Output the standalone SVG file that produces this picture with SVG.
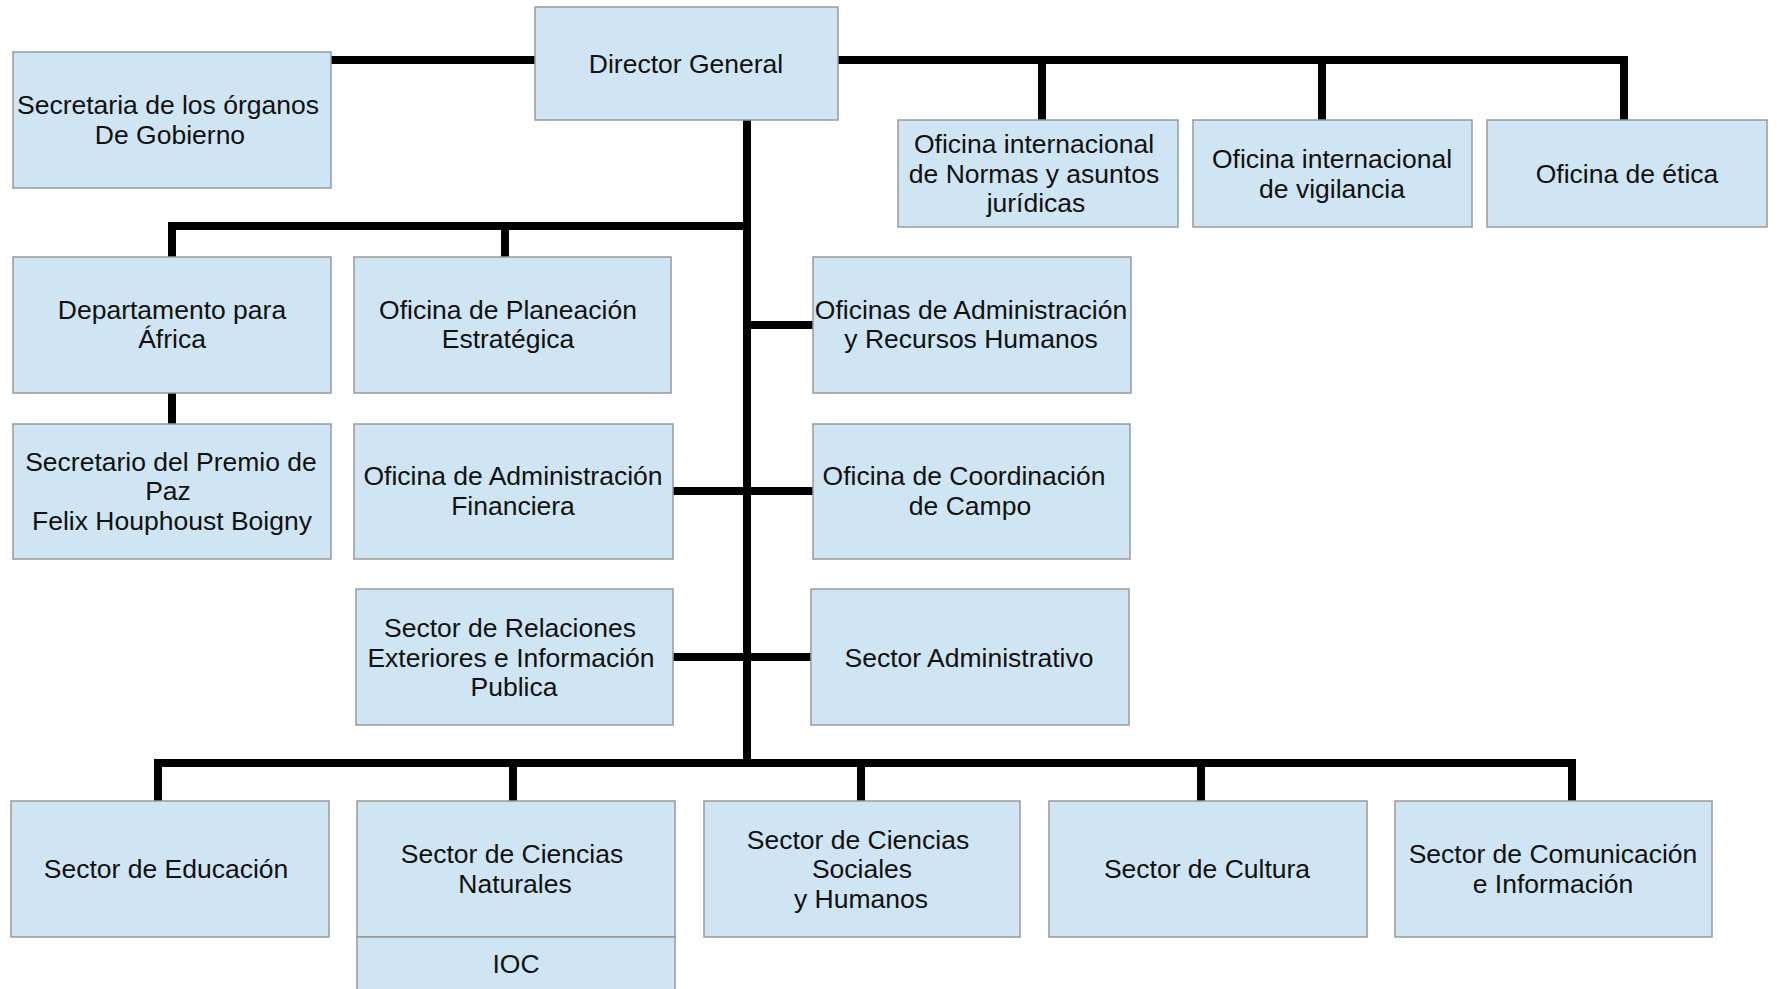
<svg xmlns="http://www.w3.org/2000/svg" width="1777" height="989" viewBox="0 0 1777 989">
<style>
.box{fill:#cfe5f3;stroke:#999999;stroke-width:1.5}
.t{font-family:"Liberation Sans",Arial,sans-serif;font-size:26.5px;fill:#111111;text-anchor:middle}
.c{fill:none;stroke:#000000;stroke-width:8;stroke-linejoin:miter;stroke-linecap:butt}
</style>
<rect width="1777" height="989" fill="#ffffff"/>
<g id="connectors">
<path class="c" d="M331 60 H535"/>
<path class="c" d="M838 60 H1624 V120"/>
<path class="c" d="M1042 60 V120"/>
<path class="c" d="M1322 60 V120"/>
<path class="c" d="M747 120 V767"/>
<path class="c" d="M751 226 H172 V257"/>
<path class="c" d="M505 226 V257"/>
<path class="c" d="M172 393 V424"/>
<path class="c" d="M747 325 H813"/>
<path class="c" d="M673 491 H813"/>
<path class="c" d="M673 657 H811"/>
<path class="c" d="M158 801 V763 H1572 V801"/>
<path class="c" d="M513 763 V801"/>
<path class="c" d="M861 763 V801"/>
<path class="c" d="M1201 763 V801"/>
</g>
<g id="director">
<rect class="box" x="535" y="7" width="303" height="113"/>
<text class="t" x="686" y="73">Director General</text>
</g>
<g id="secretaria-organos">
<rect class="box" x="13" y="52" width="318" height="136"/>
<text class="t" x="168" y="114">Secretaria de los órganos</text>
<text class="t" x="170" y="144">De Gobierno</text>
</g>
<g id="oficina-normas">
<rect class="box" x="898" y="120" width="280" height="107"/>
<text class="t" x="1034" y="153">Oficina internacional</text>
<text class="t" x="1034" y="183">de Normas y asuntos</text>
<text class="t" x="1036" y="212">jurídicas</text>
</g>
<g id="oficina-vigilancia">
<rect class="box" x="1193" y="120" width="279" height="107"/>
<text class="t" x="1332" y="168">Oficina internacional</text>
<text class="t" x="1332" y="198">de vigilancia</text>
</g>
<g id="oficina-etica">
<rect class="box" x="1487" y="120" width="280" height="107"/>
<text class="t" x="1627" y="183">Oficina de ética</text>
</g>
<g id="departamento-africa">
<rect class="box" x="13" y="257" width="318" height="136"/>
<text class="t" x="172" y="319">Departamento para</text>
<text class="t" x="172" y="348">África</text>
</g>
<g id="oficina-planeacion">
<rect class="box" x="354" y="257" width="317" height="136"/>
<text class="t" x="508" y="319">Oficina de Planeación</text>
<text class="t" x="508" y="348">Estratégica</text>
</g>
<g id="oficinas-admin-rrhh">
<rect class="box" x="813" y="257" width="318" height="136"/>
<text class="t" x="971" y="319">Oficinas de Administración</text>
<text class="t" x="971" y="348">y Recursos Humanos</text>
</g>
<g id="secretario-premio">
<rect class="box" x="13" y="424" width="318" height="135"/>
<text class="t" x="171" y="471">Secretario del Premio de</text>
<text class="t" x="168" y="500">Paz</text>
<text class="t" x="172" y="530">Felix Houphoust Boigny</text>
</g>
<g id="oficina-admin-financiera">
<rect class="box" x="354" y="424" width="319" height="135"/>
<text class="t" x="513" y="485">Oficina de Administración</text>
<text class="t" x="513" y="515">Financiera</text>
</g>
<g id="oficina-coordinacion">
<rect class="box" x="813" y="424" width="317" height="135"/>
<text class="t" x="964" y="485">Oficina de Coordinación</text>
<text class="t" x="970" y="515">de Campo</text>
</g>
<g id="sector-relaciones">
<rect class="box" x="356" y="589" width="317" height="136"/>
<text class="t" x="510" y="637">Sector de Relaciones</text>
<text class="t" x="511" y="667">Exteriores e Información</text>
<text class="t" x="514" y="696">Publica</text>
</g>
<g id="sector-administrativo">
<rect class="box" x="811" y="589" width="318" height="136"/>
<text class="t" x="969" y="667">Sector Administrativo</text>
</g>
<g id="sector-educacion">
<rect class="box" x="11" y="801" width="318" height="136"/>
<text class="t" x="166" y="878">Sector de Educación</text>
</g>
<g id="sector-ciencias-naturales">
<rect class="box" x="357" y="801" width="318" height="136"/>
<text class="t" x="512" y="863">Sector de Ciencias</text>
<text class="t" x="515" y="893">Naturales</text>
</g>
<g id="ioc">
<rect class="box" x="357" y="937" width="318" height="60"/>
<text class="t" x="516" y="973">IOC</text>
</g>
<g id="sector-ciencias-sociales">
<rect class="box" x="704" y="801" width="316" height="136"/>
<text class="t" x="858" y="849">Sector de Ciencias</text>
<text class="t" x="862" y="878">Sociales</text>
<text class="t" x="861" y="908">y Humanos</text>
</g>
<g id="sector-cultura">
<rect class="box" x="1049" y="801" width="318" height="136"/>
<text class="t" x="1207" y="878">Sector de Cultura</text>
</g>
<g id="sector-comunicacion">
<rect class="box" x="1395" y="801" width="317" height="136"/>
<text class="t" x="1553" y="863">Sector de Comunicación</text>
<text class="t" x="1553" y="893">e Información</text>
</g>
</svg>
